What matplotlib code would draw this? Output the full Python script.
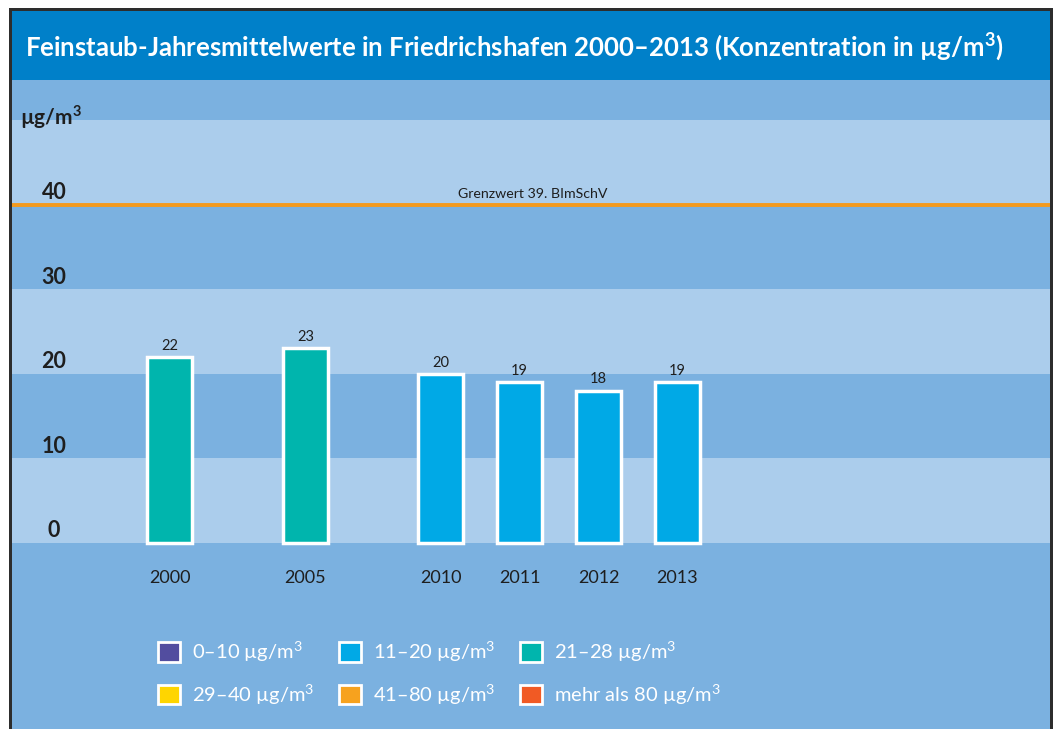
import matplotlib
matplotlib.use("Agg")
import matplotlib.pyplot as plt
from matplotlib.patches import Patch, Rectangle
import matplotlib.transforms as mtransforms

plt.rcParams['font.family'] = ['Lato', 'DejaVu Sans']
plt.rcParams['mathtext.fontset'] = 'custom'
plt.rcParams['mathtext.rm'] = 'Lato'
plt.rcParams['mathtext.bf'] = 'Lato:bold'

# data
years = ['2000', '2005', '2010', '2011', '2012', '2013']
values = [22, 23, 20, 19, 18, 19]
bar_colors = ['#00b5ad', '#00b5ad', '#00a9e6', '#00a9e6', '#00a9e6', '#00a9e6']
y_ticks = [0, 10, 20, 30, 40]
limit_value = 40
limit_label = 'Grenzwert 39. BImSchV'
unit = r'µg/m$^{\mathregular{3}}$'
legend_labels = ['0–10 ' + unit, '11–20 ' + unit, '21–28 ' + unit,
                 '29–40 ' + unit, '41–80 ' + unit, 'mehr als 80 ' + unit]
legend_colors = ['#524d9f', '#00a9e6', '#00b5ad', '#ffd500', '#f7a21e', '#f15a24']

title = ('Feinstaub-Jahresmittelwerte in Friedrichshafen 2000–2013 '
         r'(Konzentration in µg/m$^{\mathbf{3}}$)')

DARK = '#7bb1e0'
LIGHT = '#abcdec'
TEXT = '#1e1e1e'

W, H = 1053, 729
fig = plt.figure(figsize=(W / 100, H / 100), dpi=100)
fig.patch.set_facecolor('white')

# frame and title band (pixel coords converted to figure fractions)
def px(x0, y0, x1, y1):
    return (x0 / W, 1 - y1 / H, (x1 - x0) / W, (y1 - y0) / H)

x, y, w, h = px(9, 8, 1053, 729)
fig.patches.append(Rectangle((x, y), w, h, transform=fig.transFigure,
                             facecolor='#2d2d2d', edgecolor='none', zorder=-2))
x, y, w, h = px(12, 11, 1050, 80)
fig.patches.append(Rectangle((x, y), w, h, transform=fig.transFigure,
                             facecolor='#0080c9', edgecolor='none', zorder=-1))
fig.text(25 / W, 1 - 47 / H, title, color='white', fontsize=18.5,
         fontweight='bold', va='center', ha='left')

# plot area
ax = fig.add_axes(px(12, 80, 1050, 729))
ax.set_zorder(1)
ax.set_facecolor(DARK)
for s in ax.spines.values():
    s.set_visible(False)
ax.set_xticks([])
ax.set_yticks([])

# bar positions: the 5-year values sit further apart than the yearly ones
step = 79.0
pos = [0, 1.72, 3.43, 4.43, 5.43, 6.43]
x_first_px = 169.5
ax.set_xlim((12 - x_first_px) / step, (1050 - x_first_px) / step)
ax.set_ylim(-22.05, 54.76)

# background stripes (light every other 10 between 0 and 50)
for lo in range(0, 50, 20):
    ax.axhspan(lo, lo + 10, color=LIGHT, lw=0, zorder=0)
ax.axhspan(40, 50, color=LIGHT, lw=0, zorder=0)

bars = ax.bar(pos, values, width=0.57, color=bar_colors, edgecolor='white',
              linewidth=2.5, zorder=3)
ax.bar_label(bars, padding=3, fontsize=10.5, color=TEXT)

# limit line
ax.axhline(limit_value, color='#f39a1e', lw=2.8, zorder=2)
ax.text(4.6, limit_value + 0.6, limit_label, ha='center', va='bottom',
        fontsize=10.2, color=TEXT)

# y labels inside the plot
trans = mtransforms.blended_transform_factory(ax.transAxes, ax.transData)
for t in y_ticks:
    ax.text(42 / 1038, t + 1.4, str(t), transform=trans, ha='center',
            va='center', fontsize=15.5, fontweight='bold', color=TEXT)
ax.text(8 / 1038, 50.4, r'µg/m$^{\mathbf{3}}$', transform=trans, ha='left',
        va='center', fontsize=15, fontweight='bold', color=TEXT)

# year labels
for p, yr in zip(pos, years):
    ax.text(p, -4.2, yr, ha='center', va='center', fontsize=13, color=TEXT)

# legend, row-major order
order = [0, 3, 1, 4, 2, 5]
handles = [Patch(facecolor=legend_colors[i], edgecolor='white', linewidth=2)
           for i in order]
labels = [legend_labels[i] for i in order]
leg = fig.legend(handles, labels, ncol=3, frameon=False,
                 loc='upper left', bbox_to_anchor=(140 / W, 1 - 621 / H),
                 fontsize=14.5, labelcolor='white', handlelength=1.1,
                 handleheight=1.1, handletextpad=0.6, columnspacing=1.2,
                 labelspacing=0.88)
leg.set_zorder(5)

fig.savefig('out.png', dpi=100)
